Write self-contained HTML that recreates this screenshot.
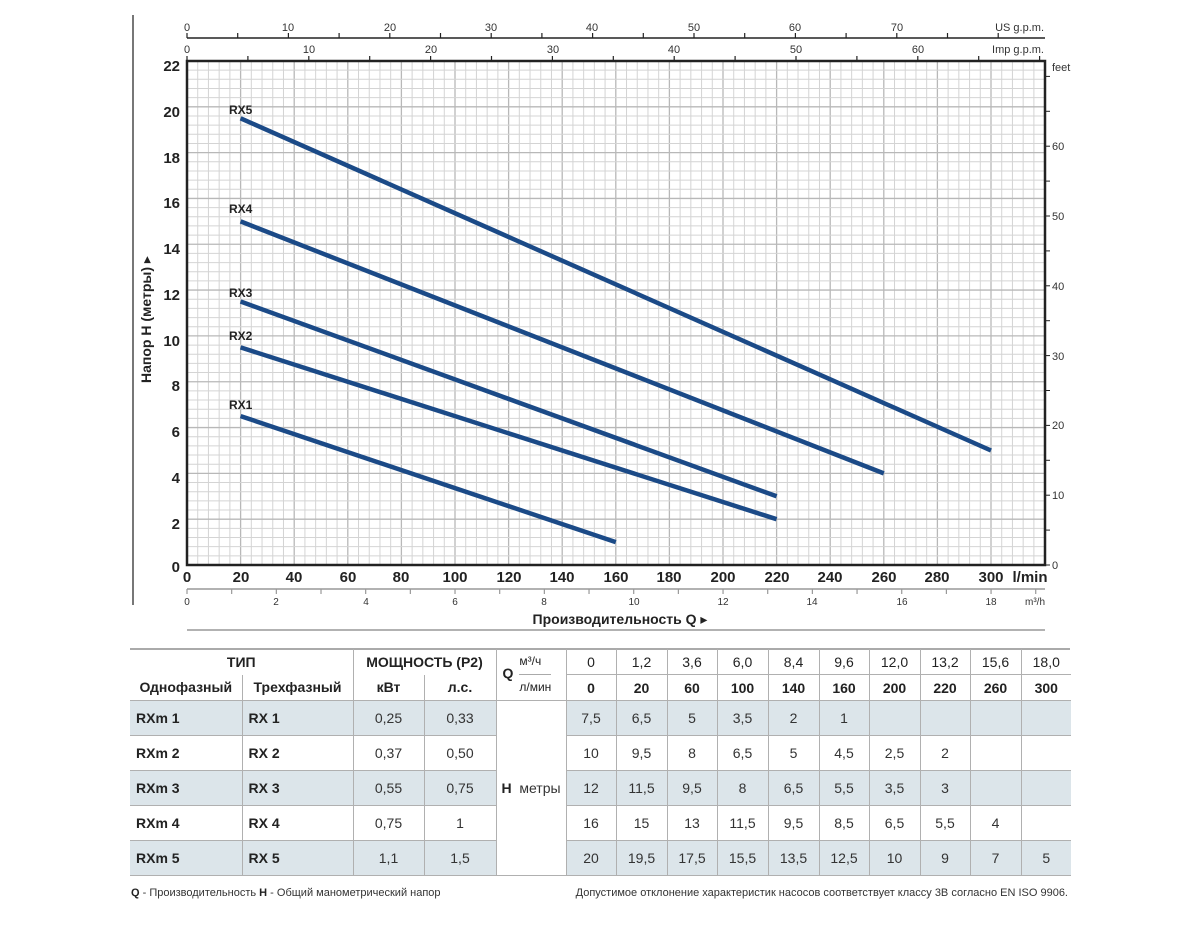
<!DOCTYPE html>
<html><head><meta charset="utf-8"><style>
body{margin:0;background:#fff;width:1200px;height:950px;overflow:hidden;font-family:"Liberation Sans",sans-serif}
svg{position:absolute;left:0;top:0}
.t{font-family:"Liberation Sans","DejaVu Sans",sans-serif;fill:#333}
.b{font-weight:bold;fill:#222}
table{position:absolute;left:130px;top:649px;border-collapse:collapse;font-family:"Liberation Sans","DejaVu Sans",sans-serif;font-size:14px;color:#333}
td{border-left:1.5px solid #b0b0b0;border-right:1.5px solid #b0b0b0;text-align:center;padding:0;}
tr.h td{height:25px;font-weight:bold;color:#222}
tr.d td{height:34px;border-top:1.5px solid #b0b0b0;border-bottom:1.5px solid #b0b0b0}
tr.s td{background:#dce5ea}
td.l{text-align:left;padding-left:6px;font-weight:bold;color:#222}
td:first-child{border-left:none} td:last-child{border-right:none}
</style></head><body>
<svg width="1200" height="950" id="g">
<g id="grid"></g>
<line x1="133" y1="15" x2="133" y2="605" stroke="#777" stroke-width="2"/>
<rect x="187" y="61" width="858" height="504" fill="none" stroke="#222" stroke-width="2.5"/>
<line x1="187" y1="38" x2="1045" y2="38" stroke="#222" stroke-width="1.5"/>
<g id="ticks"></g>
<g class="t" font-size="11" text-anchor="middle">
<text x="187" y="31">0</text><text x="288" y="31">10</text><text x="390" y="31">20</text><text x="491" y="31">30</text><text x="592" y="31">40</text><text x="694" y="31">50</text><text x="795" y="31">60</text><text x="897" y="31">70</text>
<text x="187" y="53">0</text><text x="309" y="53">10</text><text x="431" y="53">20</text><text x="553" y="53">30</text><text x="674" y="53">40</text><text x="796" y="53">50</text><text x="918" y="53">60</text>
<text x="1044" y="31" text-anchor="end">US g.p.m.</text>
<text x="1044" y="53" text-anchor="end">Imp g.p.m.</text>
</g>
<g class="t" font-size="11">
<text x="1052" y="71">feet</text>
<text x="1052" y="569">0</text><text x="1052" y="499">10</text><text x="1052" y="429">20</text><text x="1052" y="360">30</text><text x="1052" y="290">40</text><text x="1052" y="220">50</text><text x="1052" y="150">60</text>
</g>
<g class="t b" font-size="15" text-anchor="end">
<text x="180" y="71">22</text><text x="180" y="117">20</text><text x="180" y="163">18</text><text x="180" y="208">16</text><text x="180" y="254">14</text><text x="180" y="300">12</text><text x="180" y="346">10</text><text x="180" y="391">8</text><text x="180" y="437">6</text><text x="180" y="483">4</text><text x="180" y="529">2</text><text x="180" y="572">0</text>
</g>
<text class="t b" font-size="14" transform="translate(151,383) rotate(-90)">Напор Н (метры) ▸</text>
<g class="t b" font-size="15" text-anchor="middle">
<text x="187" y="582">0</text><text x="241" y="582">20</text><text x="294" y="582">40</text><text x="348" y="582">60</text><text x="401" y="582">80</text><text x="455" y="582">100</text><text x="509" y="582">120</text><text x="562" y="582">140</text><text x="616" y="582">160</text><text x="669" y="582">180</text><text x="723" y="582">200</text><text x="777" y="582">220</text><text x="830" y="582">240</text><text x="884" y="582">260</text><text x="937" y="582">280</text><text x="991" y="582">300</text>
<text x="1030" y="582">l/min</text>
</g>
<line x1="187" y1="589" x2="1045" y2="589" stroke="#999" stroke-width="1.5"/>
<g class="t" font-size="10" text-anchor="middle">
<text x="187" y="605">0</text><text x="276" y="605">2</text><text x="366" y="605">4</text><text x="455" y="605">6</text><text x="544" y="605">8</text><text x="634" y="605">10</text><text x="723" y="605">12</text><text x="812" y="605">14</text><text x="902" y="605">16</text><text x="991" y="605">18</text>
<text x="1035" y="605">m³/h</text>
</g>
<text class="t b" x="620" y="624" font-size="14" text-anchor="middle">Производительность Q ▸</text>
<line x1="187" y1="630" x2="1045" y2="630" stroke="#999" stroke-width="1.5"/>
<line x1="130" y1="649" x2="1070" y2="649" stroke="#aaa" stroke-width="2"/>
<g stroke="#1b4a87" stroke-width="4.5" stroke-linecap="butt" fill="none">
<line x1="240.6" y1="416.1" x2="615.8" y2="542.1"/>
<line x1="240.6" y1="347.4" x2="776.6" y2="519.2"/>
<line x1="240.6" y1="301.5" x2="776.6" y2="496.3"/>
<line x1="240.6" y1="221.4" x2="883.8" y2="473.4"/>
<line x1="240.6" y1="118.3" x2="991" y2="450.5"/>
</g>
<g class="t b" font-size="12">
<text x="229" y="409">RX1</text><text x="229" y="340">RX2</text><text x="229" y="297">RX3</text><text x="229" y="213">RX4</text><text x="229" y="114">RX5</text>
</g>
<g class="t" font-size="11">
<text x="131" y="896"><tspan font-weight="bold" fill="#222">Q</tspan> - Производительность  <tspan font-weight="bold" fill="#222">H</tspan> - Общий манометрический напор</text>
<text x="1068" y="896" text-anchor="end">Допустимое отклонение характеристик насосов соответствует классу 3B согласно EN ISO 9906.</text>
</g>
</svg>
<table>
<colgroup><col style="width:112px"><col style="width:111px"><col style="width:71px"><col style="width:72px"><col style="width:70px"><col style="width:50px"><col style="width:51px"><col style="width:50px"><col style="width:51px"><col style="width:51px"><col style="width:50px"><col style="width:51px"><col style="width:50px"><col style="width:51px"><col style="width:50px"></colgroup>
<tr class="h"><td colspan="2" style="font-size:14px">ТИП</td><td colspan="2" style="font-size:14px">МОЩНОСТЬ (Р2)</td><td rowspan="2" style="text-align:left;padding-left:6px;font-size:14px"><span style="position:relative">Q</span><span style="display:inline-block;vertical-align:middle;margin-left:6px;font-weight:normal;font-size:12px;line-height:25px"><span style="display:block;border-bottom:1px solid #aaa">м³/ч</span><span style="display:block">л/мин</span></span></td>
<td style="font-weight:normal;border-bottom:1px solid #b0b0b0">0</td><td style="font-weight:normal;border-bottom:1px solid #b0b0b0">1,2</td><td style="font-weight:normal;border-bottom:1px solid #b0b0b0">3,6</td><td style="font-weight:normal;border-bottom:1px solid #b0b0b0">6,0</td><td style="font-weight:normal;border-bottom:1px solid #b0b0b0">8,4</td><td style="font-weight:normal;border-bottom:1px solid #b0b0b0">9,6</td><td style="font-weight:normal;border-bottom:1px solid #b0b0b0">12,0</td><td style="font-weight:normal;border-bottom:1px solid #b0b0b0">13,2</td><td style="font-weight:normal;border-bottom:1px solid #b0b0b0">15,6</td><td style="font-weight:normal;border-bottom:1px solid #b0b0b0">18,0</td></tr>
<tr class="h"><td style="font-size:14px">Однофазный</td><td style="font-size:14px">Трехфазный</td><td style="font-size:14px">кВт</td><td style="font-size:14px">л.с.</td><td>0</td><td>20</td><td>60</td><td>100</td><td>140</td><td>160</td><td>200</td><td>220</td><td>260</td><td>300</td></tr>
<tr class="d s"><td class="l">RXm 1</td><td class="l">RX 1</td><td>0,25</td><td>0,33</td><td rowspan="5" style="background:#fff"><b style="color:#222">H</b>&nbsp; метры</td><td>7,5</td><td>6,5</td><td>5</td><td>3,5</td><td>2</td><td>1</td><td></td><td></td><td></td><td></td></tr>
<tr class="d"><td class="l">RXm 2</td><td class="l">RX 2</td><td>0,37</td><td>0,50</td><td>10</td><td>9,5</td><td>8</td><td>6,5</td><td>5</td><td>4,5</td><td>2,5</td><td>2</td><td></td><td></td></tr>
<tr class="d s"><td class="l">RXm 3</td><td class="l">RX 3</td><td>0,55</td><td>0,75</td><td>12</td><td>11,5</td><td>9,5</td><td>8</td><td>6,5</td><td>5,5</td><td>3,5</td><td>3</td><td></td><td></td></tr>
<tr class="d"><td class="l">RXm 4</td><td class="l">RX 4</td><td>0,75</td><td>1</td><td>16</td><td>15</td><td>13</td><td>11,5</td><td>9,5</td><td>8,5</td><td>6,5</td><td>5,5</td><td>4</td><td></td></tr>
<tr class="d s"><td class="l">RXm 5</td><td class="l">RX 5</td><td>1,1</td><td>1,5</td><td>20</td><td>19,5</td><td>17,5</td><td>15,5</td><td>13,5</td><td>12,5</td><td>10</td><td>9</td><td>7</td><td>5</td></tr>
</table>
<script>
var ns="http://www.w3.org/2000/svg",g=document.getElementById("grid"),tk=document.getElementById("ticks");
function L(p,x1,y1,x2,y2,c,w){var l=document.createElementNS(ns,"line");l.setAttribute("x1",x1);l.setAttribute("y1",y1);l.setAttribute("x2",x2);l.setAttribute("y2",y2);l.setAttribute("stroke",c);l.setAttribute("stroke-width",w);p.appendChild(l);}
for(var i=1;i<80;i++){var x=187+i*10.72;L(g,x,61,x,565,i%5?"#d4d4d4":"#b8b8b8",i%5?1:1.3);}
for(var j=1;j<55;j++){var y=565-j*9.164;L(g,187,y,1045,y,j%5?"#d4d4d4":"#b8b8b8",j%5?1:1.3);}
for(var k=0;k<=16;k++){var x=187+k*50.7;if(x<1045)L(tk,x,38,x,33,"#222",1.2);}
for(var k=0;k<=14;k++){var x=187+k*60.9;if(x<1045)L(tk,x,61,x,56,"#222",1.2);}
for(var k=0;k<=19;k++){var x=187+k*44.67;L(tk,x,589,x,594,"#999",1.2);}
for(var k=0;k<=14;k++){var y=565-k*34.9;if(y>61)L(tk,1045,y,1050,y,"#222",1);}
</script>
</body></html>
